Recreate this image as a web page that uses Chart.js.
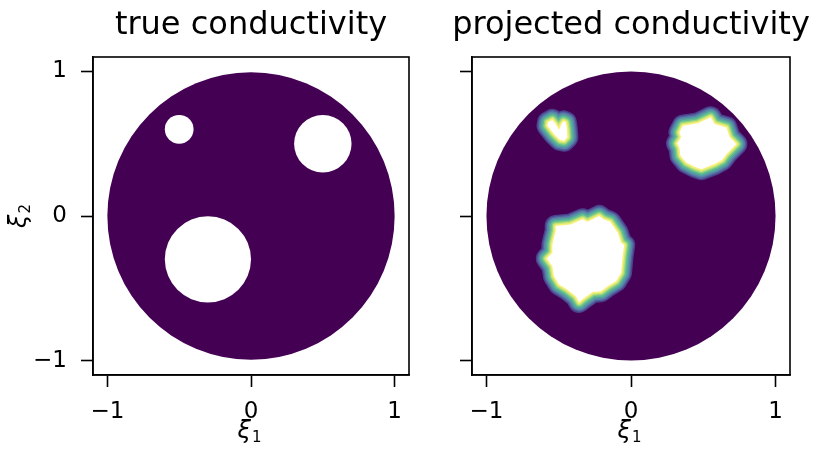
<!DOCTYPE html>
<html>
<head>
<meta charset="utf-8">
<script src="https://cdn.jsdelivr.net/npm/chart.js@4/dist/chart.umd.min.js"></script>
<style>
  html, body { margin: 0; padding: 0; background: #fff; }
  #wrap { position: relative; width: 816px; height: 453px; overflow: hidden; }
  canvas { position: absolute; top: 0; }
  #left { left: 0; }
  #right { left: 446px; }
</style>
</head>
<body>
<div id="wrap">
  <canvas id="left" width="502" height="453"></canvas>
  <canvas id="right" width="370" height="453"></canvas>
</div>
<script>
// Panel titles and axis ticks
const panelTitles = ['true conductivity', 'projected conductivity'];
const tickValues = [-1, 0, 1];
const tickLabels = ['\u22121', '0', '1'];
const axisSymbols = { x: ['\u03BE', '1'], y: ['\u03BE', '2'] };

// Unit disk domain
const domainX = [0];
const domainY = [0];
const domainR = [1];

// Circular inclusions of the true conductivity
const inclusionX = [-0.5, 0.5, -0.3];
const inclusionY = [0.6, 0.5, -0.3];
const inclusionR = [0.1, 0.2, 0.3];

// Outlines of the projected inclusions (vertices in ξ1, ξ2)
const smallBlobX = [-0.574, -0.544, -0.521, -0.498, -0.481, -0.467, -0.451, -0.444, -0.440, -0.463, -0.491, -0.533, -0.560, -0.578];
const smallBlobY = [0.648, 0.665, 0.637, 0.595, 0.637, 0.655, 0.648, 0.602, 0.544, 0.521, 0.526, 0.567, 0.602, 0.625];

const mediumBlobX = [0.359, 0.463, 0.551, 0.578, 0.660, 0.683, 0.729, 0.660, 0.630, 0.578, 0.486, 0.440, 0.382, 0.342, 0.335, 0.319, 0.347, 0.335];
const mediumBlobY = [0.625, 0.641, 0.683, 0.637, 0.613, 0.544, 0.498, 0.428, 0.387, 0.359, 0.324, 0.340, 0.370, 0.417, 0.474, 0.502, 0.544, 0.578];

const largeBlobX = [-0.521, -0.417, -0.335, -0.301, -0.220, -0.190, -0.144, -0.092, -0.069, -0.047, -0.058, -0.069, -0.104, -0.162, -0.208, -0.266, -0.324, -0.359, -0.382, -0.440, -0.498, -0.533, -0.544, -0.583, -0.544, -0.544, -0.533, -0.521];
const largeBlobY = [-0.069, -0.058, -0.023, -0.040, 0.000, -0.023, -0.040, -0.116, -0.185, -0.201, -0.278, -0.394, -0.451, -0.486, -0.521, -0.526, -0.567, -0.595, -0.556, -0.509, -0.474, -0.417, -0.347, -0.294, -0.255, -0.197, -0.151, -0.104];

// Colour band around each projected inclusion, outer to inner
const bandColors = ['#4a3f8a', '#525f9e', '#5a82a8', '#54a2a0', '#5fbb92', '#93d27e', '#cbe574', '#f8f07a'];
const bandWidths = [22, 19.5, 17, 14, 11, 8, 5.5, 3];

const FONT = 'DejaVu Sans';
const PURPLE = '#440154';

function unitToPixels(chart, r) {
  const s = chart.scales.x;
  return Math.abs(s.getPixelForValue(r) - s.getPixelForValue(0));
}

function toPoints(xs, ys) {
  const pts = xs.map((x, i) => ({ x: x, y: ys[i] }));
  pts.push({ x: xs[0], y: ys[0] });
  return pts;
}

function diskDatasets() {
  return [{
    type: 'scatter',
    data: domainX.map((x, i) => ({ x: x, y: domainY[i] })),
    pointRadius: ctx => unitToPixels(ctx.chart, domainR[ctx.dataIndex]),
    pointHoverRadius: ctx => unitToPixels(ctx.chart, domainR[ctx.dataIndex]),
    backgroundColor: PURPLE,
    borderWidth: 0,
    pointBorderWidth: 0,
    clip: false,
    order: 1000
  }];
}

function panelScales(yWidth, showYLabels) {
  const tickFont = { family: FONT, size: 23 };
  const tickGrid = { drawOnChartArea: false, drawTicks: true, tickLength: 12, tickColor: '#000', tickWidth: 1.6 };
  const edge = { display: true, color: '#000', width: 1.6 };
  return {
    x: {
      type: 'linear', min: -1.1, max: 1.1,
      afterBuildTicks: s => { s.ticks = tickValues.map(v => ({ value: v })); },
      afterFit: s => { s.height = 78; },
      grid: tickGrid,
      border: edge,
      ticks: {
        color: '#000', font: tickFont, padding: 11, maxRotation: 0, autoSkip: false,
        callback: v => tickLabels[tickValues.indexOf(v)]
      }
    },
    y: {
      type: 'linear', min: -1.1, max: 1.1,
      afterBuildTicks: s => { s.ticks = tickValues.map(v => ({ value: v })); },
      afterFit: s => { s.width = yWidth; },
      grid: tickGrid,
      border: edge,
      ticks: {
        color: '#000', font: tickFont, padding: 14, autoSkip: false,
        callback: v => showYLabels ? tickLabels[tickValues.indexOf(v)] : ''
      }
    },
    // empty right-hand gutter, same width as the left one, keeps the title centred over the plot
    gutter: {
      type: 'linear', position: 'right', min: 0, max: 1,
      afterFit: s => { s.width = yWidth; },
      grid: { display: false }, border: { display: false }, ticks: { display: false }
    }
  };
}

const framePlugin = {
  id: 'frame',
  afterDraw(chart) {
    const { ctx, chartArea: a } = chart;
    ctx.save();
    ctx.strokeStyle = '#000';
    ctx.lineWidth = 1.6;
    ctx.strokeRect(a.left, a.top, a.right - a.left, a.bottom - a.top);
    ctx.restore();
  }
};

// ξ with a subscript index, as in mathtext axis labels
function drawSymbol(ctx, sym, x, y, rot) {
  const mainFont = 'italic 24px "' + FONT + '"';
  const subFont = '15px "' + FONT + '"';
  ctx.save();
  ctx.translate(x, y);
  ctx.rotate(rot);
  ctx.fillStyle = '#000';
  ctx.textAlign = 'left';
  ctx.textBaseline = 'alphabetic';
  ctx.font = mainFont;
  const w1 = ctx.measureText(sym[0]).width;
  ctx.font = subFont;
  const w2 = ctx.measureText(sym[1]).width;
  const x0 = -(w1 + w2 + 1) / 2;
  ctx.font = mainFont;
  ctx.fillText(sym[0], x0, 0);
  ctx.font = subFont;
  ctx.fillText(sym[1], x0 + w1 + 1, 4);
  ctx.restore();
}

const axisLabelPlugin = {
  id: 'axisLabels',
  afterDraw(chart, args, opts) {
    const { ctx, chartArea: a } = chart;
    drawSymbol(ctx, axisSymbols.x, (a.left + a.right) / 2 - 1.5, a.bottom + 63, 0);
    if (opts.showY) {
      drawSymbol(ctx, axisSymbols.y, a.left - 67, (a.top + a.bottom) / 2, -Math.PI / 2);
    }
  }
};

function panelOptions(title, yWidth, showYLabels) {
  return {
    responsive: false,
    animation: false,
    events: [],
    layout: { padding: 0 },
    plugins: {
      legend: { display: false },
      tooltip: { enabled: false },
      title: {
        display: true, text: title, color: '#000',
        font: { family: FONT, size: 32, weight: 'normal' },
        padding: { top: 6.5, bottom: 12.1 }
      },
      axisLabels: { showY: showYLabels }
    },
    scales: panelScales(yWidth, showYLabels)
  };
}

// Left panel: unit disk with circular inclusions
const leftData = diskDatasets().concat([{
  type: 'scatter',
  data: inclusionX.map((x, i) => ({ x: x, y: inclusionY[i] })),
  pointRadius: ctx => unitToPixels(ctx.chart, inclusionR[ctx.dataIndex]),
  pointHoverRadius: ctx => unitToPixels(ctx.chart, inclusionR[ctx.dataIndex]),
  backgroundColor: '#ffffff',
  borderWidth: 0,
  pointBorderWidth: 0,
  clip: false,
  order: 500
}]);

new Chart(document.getElementById('left'), {
  type: 'scatter',
  data: { datasets: leftData },
  options: panelOptions(panelTitles[0], 93, true),
  plugins: [framePlugin, axisLabelPlugin]
});

// Right panel: unit disk with reconstructed inclusions
const blobs = [
  toPoints(smallBlobX, smallBlobY),
  toPoints(mediumBlobX, mediumBlobY),
  toPoints(largeBlobX, largeBlobY)
];
const rightData = diskDatasets();
blobs.forEach(pts => {
  bandColors.forEach((c, k) => {
    rightData.push({
      type: 'scatter', showLine: true, data: pts,
      borderColor: c, borderWidth: bandWidths[k],
      borderJoinStyle: 'round', borderCapStyle: 'round',
      pointRadius: 0, pointHoverRadius: 0,
      fill: false, tension: 0, order: 100 - k
    });
  });
  rightData.push({
    type: 'scatter', showLine: true, data: pts,
    borderWidth: 0, borderColor: 'rgba(0,0,0,0)', backgroundColor: '#ffffff',
    pointRadius: 0, pointHoverRadius: 0, fill: 'shape', tension: 0, order: 1
  });
});

new Chart(document.getElementById('right'), {
  type: 'scatter',
  data: { datasets: rightData },
  options: panelOptions(panelTitles[1], 26, false),
  plugins: [framePlugin, axisLabelPlugin]
});
</script>
</body>
</html>
